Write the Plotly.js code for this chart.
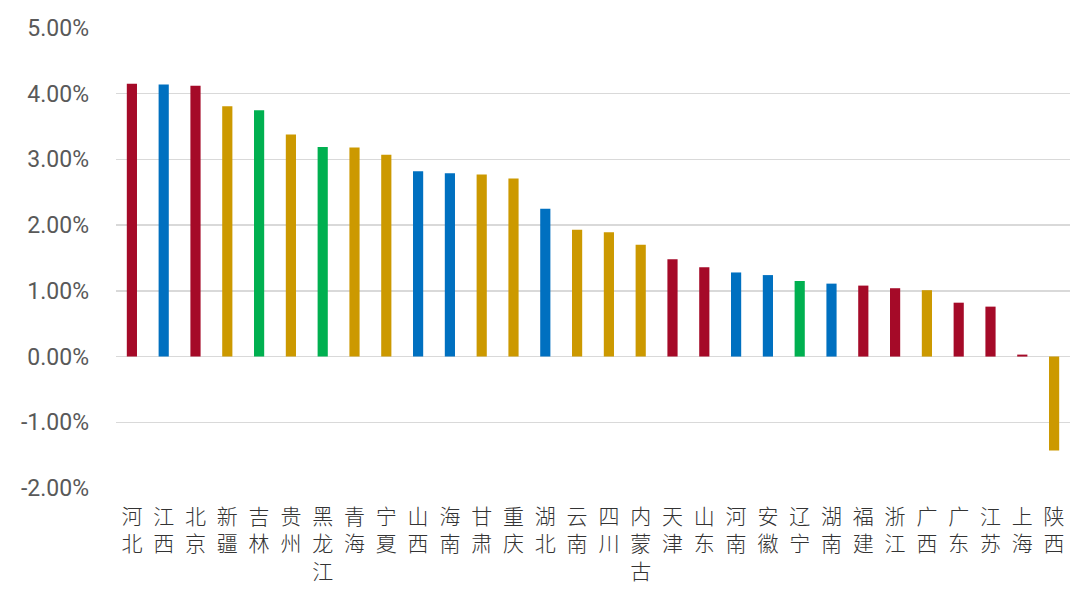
<!DOCTYPE html>
<html>
<head>
<meta charset="utf-8">
<script src="https://cdn.plot.ly/plotly-3.0.1.min.js"></script>
<style>html,body{margin:0;padding:0;background:#fff;}#chart{width:1080px;height:597px;}</style>
</head>
<body>
<div id="chart"></div>
<script>
const provinces = ['河北','江西','北京','新疆','吉林','贵州','黑龙江','青海','宁夏','山西','海南','甘肃','重庆','湖北','云南','四川','内蒙古','天津','山东','河南','安徽','辽宁','湖南','福建','浙江','广西','广东','江苏','上海','陕西'];
const values = [4.15, 4.14, 4.12, 3.81, 3.75, 3.38, 3.19, 3.18, 3.07, 2.82, 2.79, 2.77, 2.71, 2.25, 1.93, 1.89, 1.70, 1.48, 1.36, 1.28, 1.24, 1.15, 1.11, 1.08, 1.04, 1.01, 0.82, 0.76, 0.03, -1.43];
const groups = ['red','blue','red','gold','green','gold','green','gold','gold','blue','blue','gold','gold','blue','gold','gold','gold','red','red','blue','blue','green','blue','red','red','gold','red','red','red','gold'];
const palette = {red:'#A50A28', blue:'#0070C0', gold:'#CC9900', green:'#00B050'};
const yTicks = [-2,-1,0,1,2,3,4,5];
const yTickText = yTicks.map(v => v.toFixed(2) + '%');
const xTickText = provinces.map(p => p.split('').join('<br>'));

Plotly.newPlot('chart', [{
  type: 'bar',
  x: provinces,
  y: values,
  marker: {color: groups.map(g => palette[g])},
  hoverinfo: 'x+y'
}], {
  width: 1080, height: 597,
  margin: {l: 116, r: 10, t: 28, b: 109},
  paper_bgcolor: '#fff', plot_bgcolor: '#fff',
  bargap: 0.68,
  showlegend: false,
  xaxis: {
    type: 'category',
    tickmode: 'array', tickvals: provinces, ticktext: xTickText,
    tickangle: 0,
    tickfont: {family: '"Noto Sans CJK SC", sans-serif', size: 21, color: '#333', weight: 300},
    showgrid: false, zeroline: false, showline: false, ticks: '',
    ticklabelstandoff: 14
  },
  yaxis: {
    range: [-2, 5],
    tickmode: 'array', tickvals: yTicks, ticktext: yTickText,
    tickfont: {family: 'Roboto, sans-serif', size: 23, color: '#595959'},
    showgrid: true, gridcolor: '#D9D9D9', gridwidth: 1.5,
    zeroline: true, zerolinecolor: '#D9D9D9', zerolinewidth: 1.5,
    showline: false, ticks: '',
    ticklabelstandoff: 26
  }
}, {displayModeBar: false, staticPlot: true});
</script>
</body>
</html>
